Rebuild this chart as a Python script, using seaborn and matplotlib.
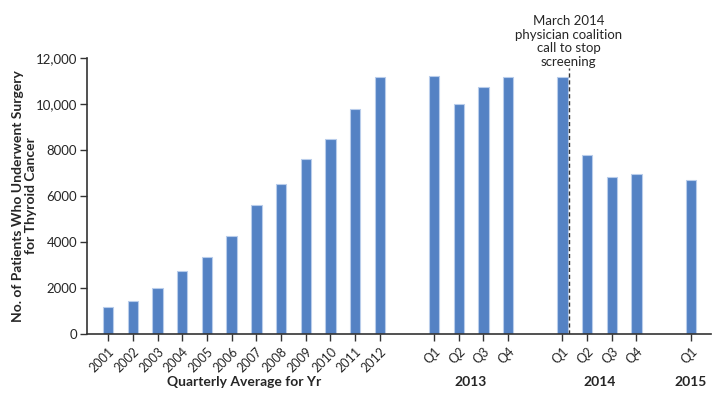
import numpy as np
import pandas as pd
import seaborn as sns
import matplotlib.pyplot as plt
from matplotlib.transforms import blended_transform_factory

# --- Data ---

year_labels = ['2001', '2002', '2003', '2004', '2005', '2006',
               '2007', '2008', '2009', '2010', '2011', '2012']
year_avg = [1160, 1435, 1980, 2750, 3360, 4260, 5610, 6500, 7610, 8490, 9780, 11190]

quarter_labels_2013 = ['Q1', 'Q2', 'Q3', 'Q4']
quarters_2013 = [11220, 10010, 10740, 11190]

quarter_labels_2014 = ['Q1', 'Q2', 'Q3', 'Q4']
quarters_2014 = [11190, 7780, 6810, 6940]

quarter_labels_2015 = ['Q1']
quarters_2015 = [6700]

group_titles = ['Quarterly Average for Yr', '2013', '2014', '2015']

y_ticks = [0, 2000, 4000, 6000, 8000, 10000, 12000]
y_tick_labels = ['0', '2000', '4000', '6000', '8000', '10,000', '12,000']

annotation = 'March 2014\nphysician coalition\ncall to stop\nscreening'

# --- Layout ---
GROUP_GAP = 2.2      # spacing between groups, in bar slots
BAR_COLOR = '#5482C4'
EDGE_COLOR = '#B9CDEB'

groups = [
    (year_labels, year_avg),
    (quarter_labels_2013, quarters_2013),
    (quarter_labels_2014, quarters_2014),
    (quarter_labels_2015, quarters_2015),
]

rows = []
centers = []
start = 0.0
for gi, (labels, values) in enumerate(groups):
    pos = start + np.arange(len(labels))
    centers.append(pos.mean())
    for p, lab, v in zip(pos, labels, values):
        rows.append({'pos': p, 'label': lab, 'value': v, 'group': gi})
    start = pos[-1] + GROUP_GAP
df = pd.DataFrame(rows)

sns.set_style('white')
plt.rcParams['font.family'] = ['Lato', 'DejaVu Sans']

fig = plt.figure(figsize=(7.18, 3.97), dpi=100)
ax = fig.add_axes([0.1212, 0.1587, 0.8690, 0.6955])

sns.barplot(data=df, x='pos', y='value', native_scale=True, color=BAR_COLOR,
            saturation=1, width=0.42, edgecolor=EDGE_COLOR, linewidth=0.8, ax=ax)

ax.set_xlim(-0.86, 24.42)
ax.set_ylim(0, 12000)

ax.set_xticks(df['pos'])
ax.set_xticklabels(df['label'], rotation=45, ha='right', rotation_mode='anchor',
                   fontsize=9)
ax.set_yticks(y_ticks)
ax.set_yticklabels(y_tick_labels, fontsize=9.5)
ax.tick_params(axis='both', direction='out', length=5, width=1, color='#333333',
               bottom=True, left=True, pad=2)
ax.tick_params(axis='x', pad=3)

for side in ['top', 'right']:
    ax.spines[side].set_visible(False)
for side in ['left', 'bottom']:
    ax.spines[side].set_color('#333333')
    ax.spines[side].set_linewidth(1.2)

ax.set_xlabel('')
ax.set_ylabel('No. of Patients Who Underwent Surgery\nfor Thyroid Cancer',
              fontsize=10, fontweight='bold', linespacing=1.1)
ax.yaxis.set_label_coords(-0.08, 0.5)

# group titles under the axis
trans = blended_transform_factory(ax.transData, ax.transAxes)
for title, cx in zip(group_titles, centers):
    ax.text(cx, -0.175, title, transform=trans, ha='center', va='center',
            fontsize=10, fontweight='bold')

# March 2014 marker: end of 2014 Q1
marker_x = df[(df['group'] == 2)]['pos'].iloc[0] + 0.25
ax.vlines(marker_x, 0, 11540, colors='#333333', linestyles=(0, (3, 2)), linewidth=1)
ax.text(marker_x, 11580, annotation, ha='center', va='bottom', fontsize=9.5,
        linespacing=1.15, clip_on=False)

fig.savefig('out.png', dpi=100)
